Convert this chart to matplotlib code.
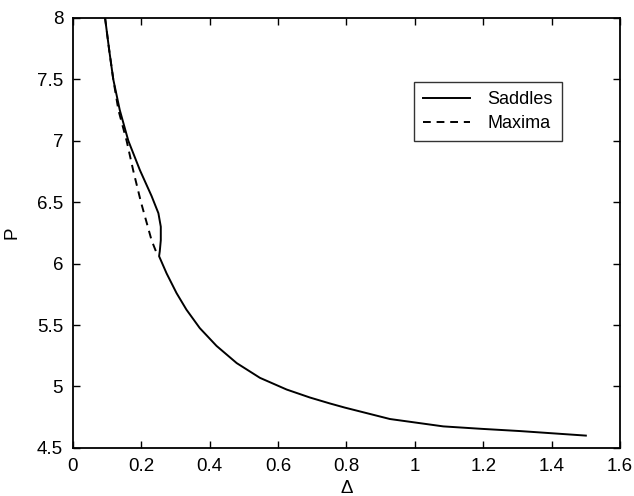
import matplotlib
matplotlib.use("Agg")
import matplotlib.pyplot as plt

plt.rcParams['font.family'] = ['Liberation Sans', 'DejaVu Sans']

# saddles branch (solid)
saddle_d = [0.094, 0.106, 0.118, 0.137, 0.162, 0.196, 0.230, 0.250, 0.257, 0.257, 0.254, 0.252,
            0.274, 0.303, 0.332, 0.371, 0.420, 0.479, 0.547, 0.625, 0.693, 0.751, 0.795,
            0.927, 1.083, 1.195, 1.307, 1.50]
saddle_p = [8.0, 7.74, 7.5, 7.25, 7.0, 6.76, 6.55, 6.41, 6.30, 6.19, 6.10, 6.06,
            5.92, 5.76, 5.625, 5.475, 5.33, 5.19, 5.07, 4.975, 4.91, 4.862, 4.828,
            4.735, 4.675, 4.655, 4.637, 4.60]

# maxima branch (dashed)
max_d = [0.094, 0.106, 0.118, 0.133, 0.157, 0.177, 0.199, 0.215, 0.230, 0.247]
max_p = [8.0, 7.74, 7.5, 7.25, 7.0, 6.75, 6.5, 6.34, 6.19, 6.07]

fig = plt.figure(figsize=(6.34, 4.96), dpi=100)
ax = fig.add_axes([0.115, 0.097, 0.863, 0.867])

ax.plot(saddle_d, saddle_p, 'k-', lw=1.4, label='Saddles')
ax.plot(max_d, max_p, 'k--', lw=1.4, dashes=(4, 3), label='Maxima')

ax.set_xlim(0, 1.6)
ax.set_ylim(4.5, 8)
ax.set_xticks([0, 0.2, 0.4, 0.6, 0.8, 1, 1.2, 1.4, 1.6])
ax.set_xticklabels(['0', '0.2', '0.4', '0.6', '0.8', '1', '1.2', '1.4', '1.6'])
ax.set_yticks([4.5, 5, 5.5, 6, 6.5, 7, 7.5, 8])
ax.set_yticklabels(['4.5', '5', '5.5', '6', '6.5', '7', '7.5', '8'])
ax.tick_params(direction='in', length=5, width=1, labelsize=13.5, pad=7, top=True, right=True,
               labeltop=False, labelright=False)
for s in ax.spines.values():
    s.set_linewidth(1.3)

ax.set_xlabel('Δ', fontsize=13.5, labelpad=4)
ax.set_ylabel('P', fontsize=13.5, labelpad=12)

leg = ax.legend(loc='upper right', bbox_to_anchor=(0.894, 0.851), borderaxespad=0,
                fontsize=13, frameon=True, fancybox=False, edgecolor='k',
                handlelength=2.6, handletextpad=1.0, borderpad=0.5, labelspacing=0.4)
leg.get_frame().set_linewidth(1.0)

fig.savefig('out.png', dpi=100)
